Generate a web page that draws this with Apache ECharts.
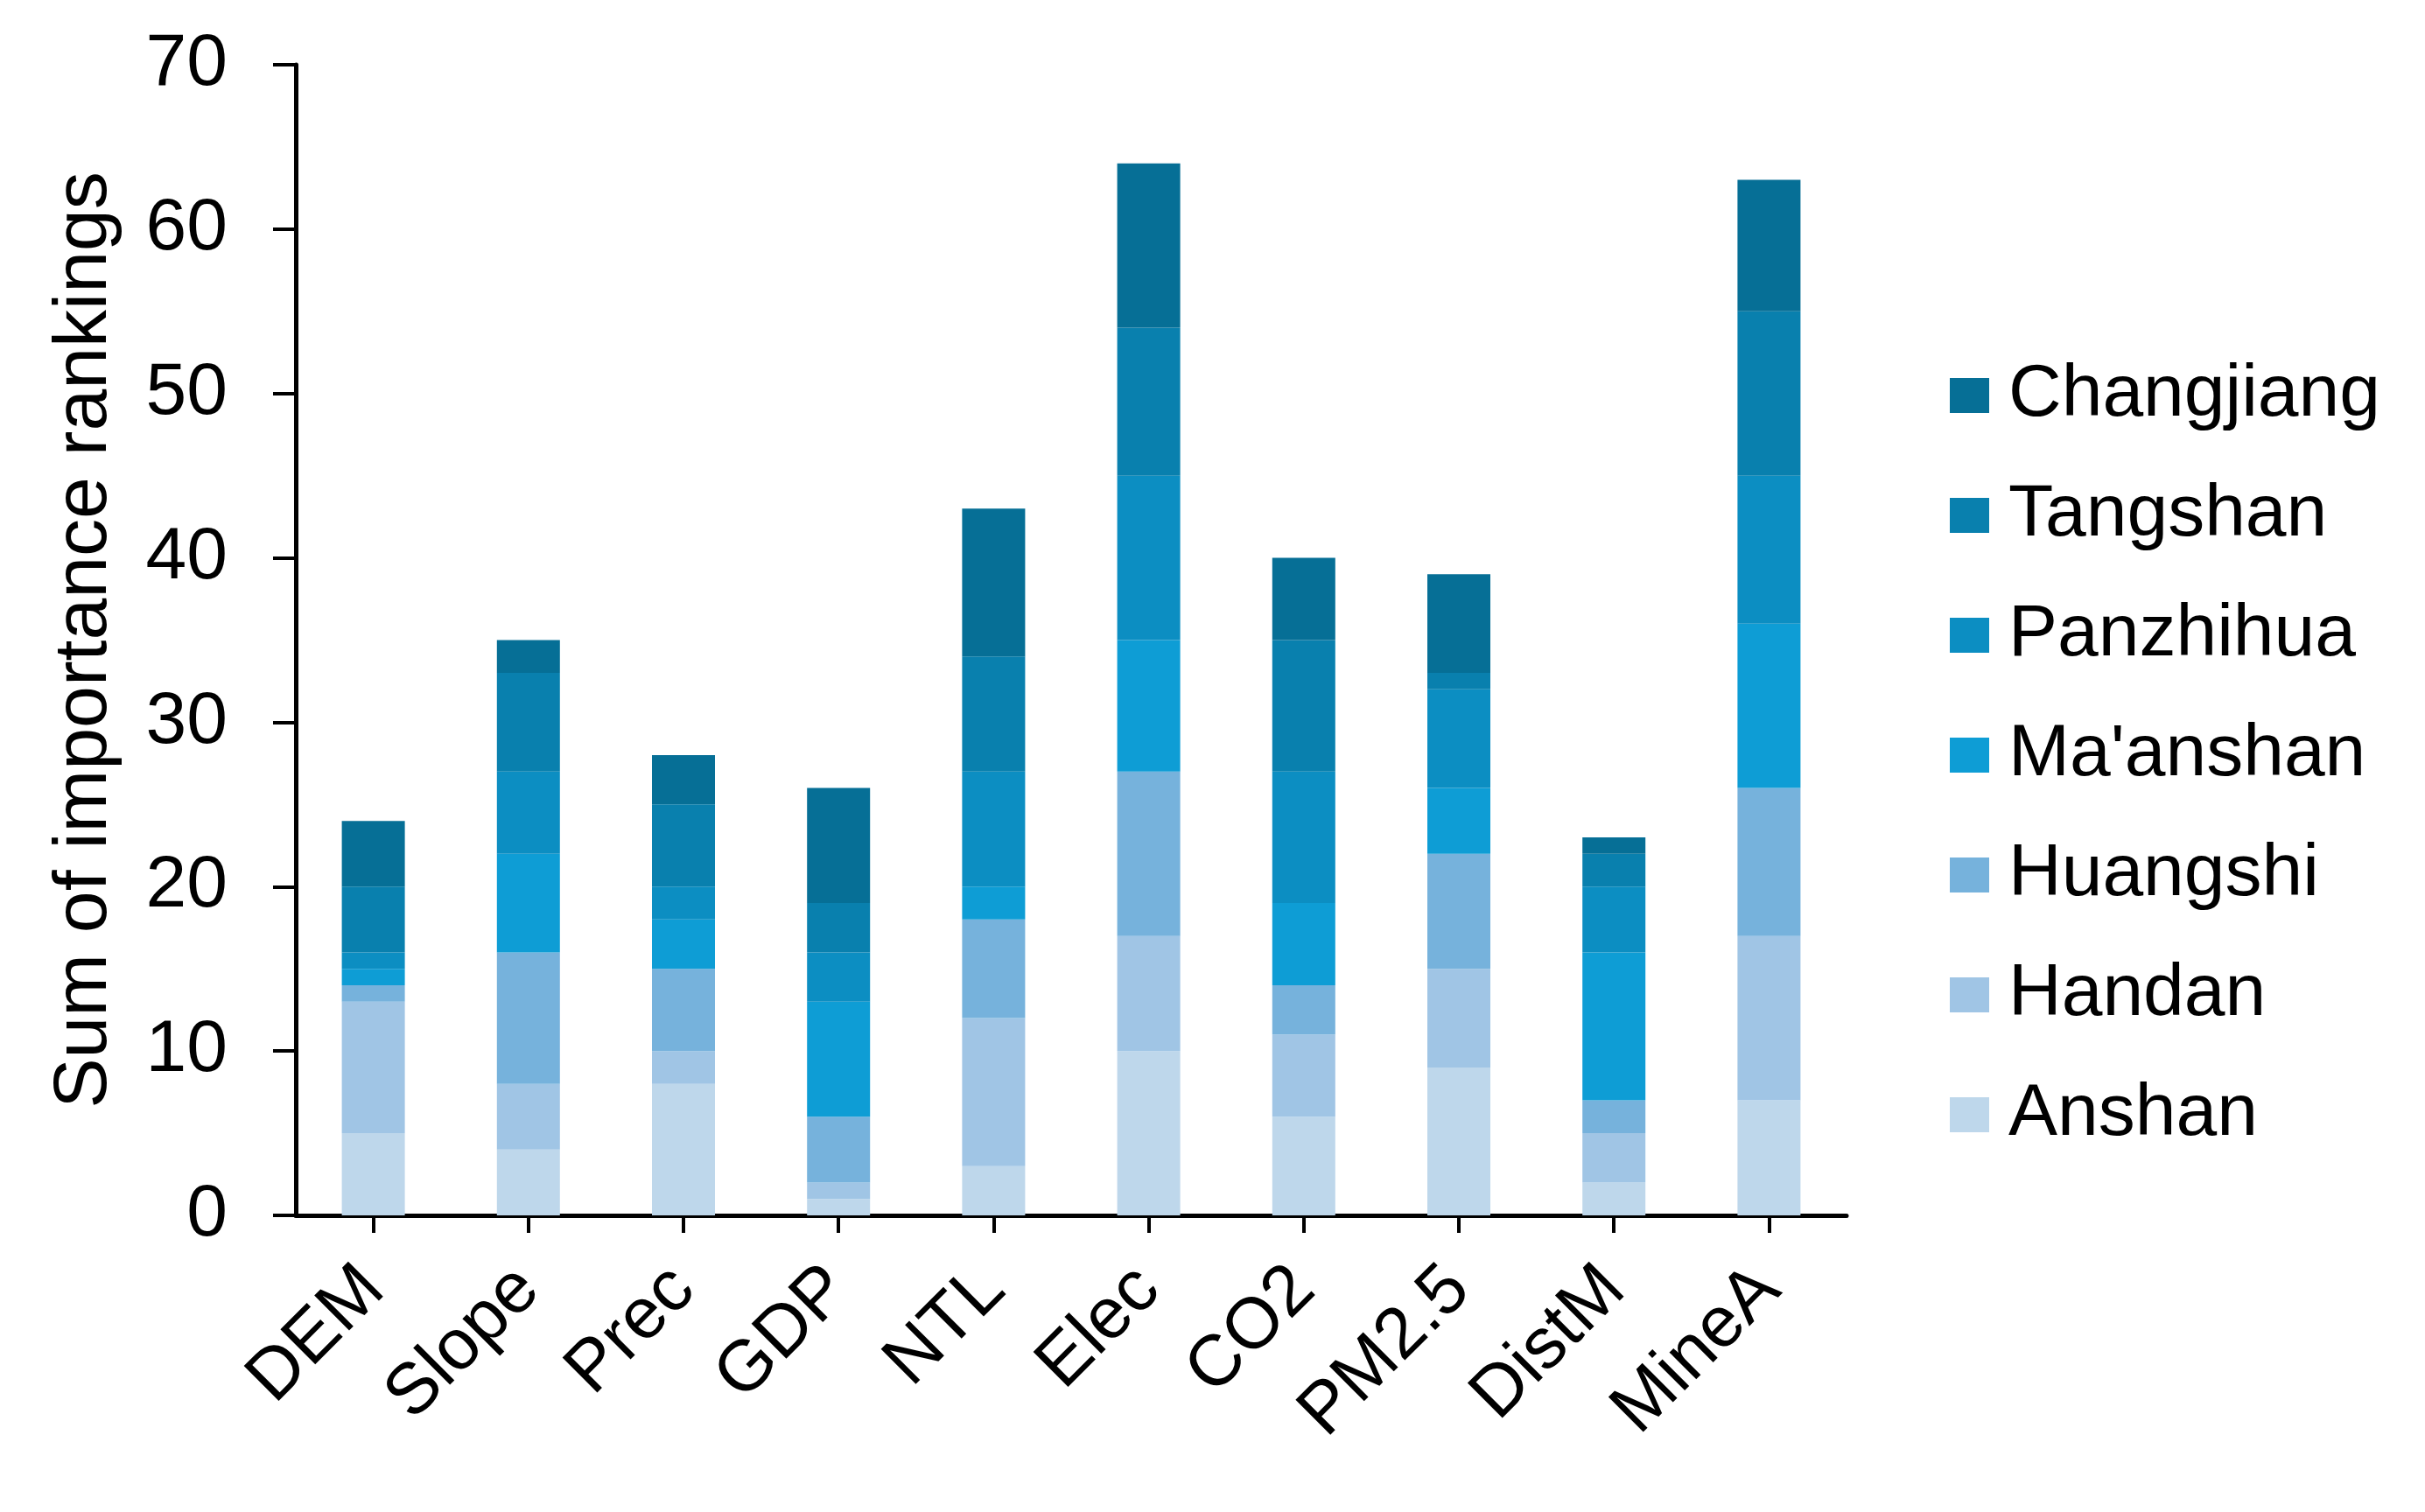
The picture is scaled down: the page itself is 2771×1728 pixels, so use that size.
<!DOCTYPE html>
<html>
<head>
<meta charset="utf-8">
<script src="https://cdn.jsdelivr.net/npm/echarts@6/dist/echarts.min.js"></script>
<style>
html,body{margin:0;padding:0;background:#fff;}
#chart{width:2771px;height:1728px;}
</style>
</head>
<body>
<div id="chart"></div>
<script>
const categories = ['DEM','Slope','Prec','GDP','NTL','Elec','CO2','PM2.5','DistM','MineA'];
const yTicks = [0,10,20,30,40,50,60,70];
const Anshan     = [5,4,8,1,3,10,6,9,2,7];
const Handan     = [8,4,2,1,9,7,5,6,3,10];
const Huangshi   = [1,8,5,4,6,10,3,7,2,9];
const Maanshan   = [1,6,3,7,2,8,5,4,9,10];
const Panzhihua  = [1,5,2,3,7,10,8,6,4,9];
const Tangshan   = [4,6,5,3,7,9,8,1,2,10];
const Changjiang = [4,2,3,7,9,10,5,6,1,8];

const seriesDefs = [
  {name:'Anshan', data:Anshan, color:'#BED7EB'},
  {name:'Handan', data:Handan, color:'#A0C5E5'},
  {name:'Huangshi', data:Huangshi, color:'#76B2DC'},
  {name:"Ma'anshan", data:Maanshan, color:'#0E9DD5'},
  {name:'Panzhihua', data:Panzhihua, color:'#0C8EC2'},
  {name:'Tangshan', data:Tangshan, color:'#0980AE'},
  {name:'Changjiang', data:Changjiang, color:'#066F96'}
];

const FONT = '"Liberation Sans", Arial, sans-serif';
const chart = echarts.init(document.getElementById('chart'), null, {renderer:'canvas'});
chart.setOption({
  backgroundColor:'#ffffff',
  animation:false,
  grid:{left:338, right:661, top:74, bottom:339, containLabel:false},
  legend:{
    orient:'vertical',
    left:2223, top:402,
    itemWidth:45, itemHeight:40, itemGap:47,
    icon:'rect',
    data:seriesDefs.map(s=>s.name).reverse(),
    textStyle:{fontFamily:FONT, fontSize:84, color:'#000', lineHeight:90, padding:[0,0,0,17]}
  },
  xAxis:{
    type:'category',
    data:categories,
    axisLine:{lineStyle:{color:'#000', width:5}},
    axisTick:{show:true, alignWithLabel:true, length:20, lineStyle:{color:'#000', width:4}},
    axisLabel:{rotate:45, margin:72, fontFamily:FONT, fontSize:82, color:'#000', interval:0}
  },
  yAxis:{
    type:'value',
    min:0, max:70, interval:10,
    name:'Sum of importance rankings',
    nameLocation:'middle',
    nameGap:198,
    nameTextStyle:{fontFamily:FONT, fontSize:86, color:'#000'},
    axisLine:{show:true, lineStyle:{color:'#000', width:5}},
    axisTick:{show:true, length:26, lineStyle:{color:'#000', width:4}},
    axisLabel:{margin:78, fontFamily:FONT, fontSize:84, color:'#000',
      formatter:v=> yTicks.includes(v) ? String(v) : ''},
    splitLine:{show:false}
  },
  series:seriesDefs.map(s=>({
    name:s.name, type:'bar', stack:'total', data:s.data,
    barWidth:72,
    itemStyle:{color:s.color}
  }))
});
</script>
</body>
</html>
